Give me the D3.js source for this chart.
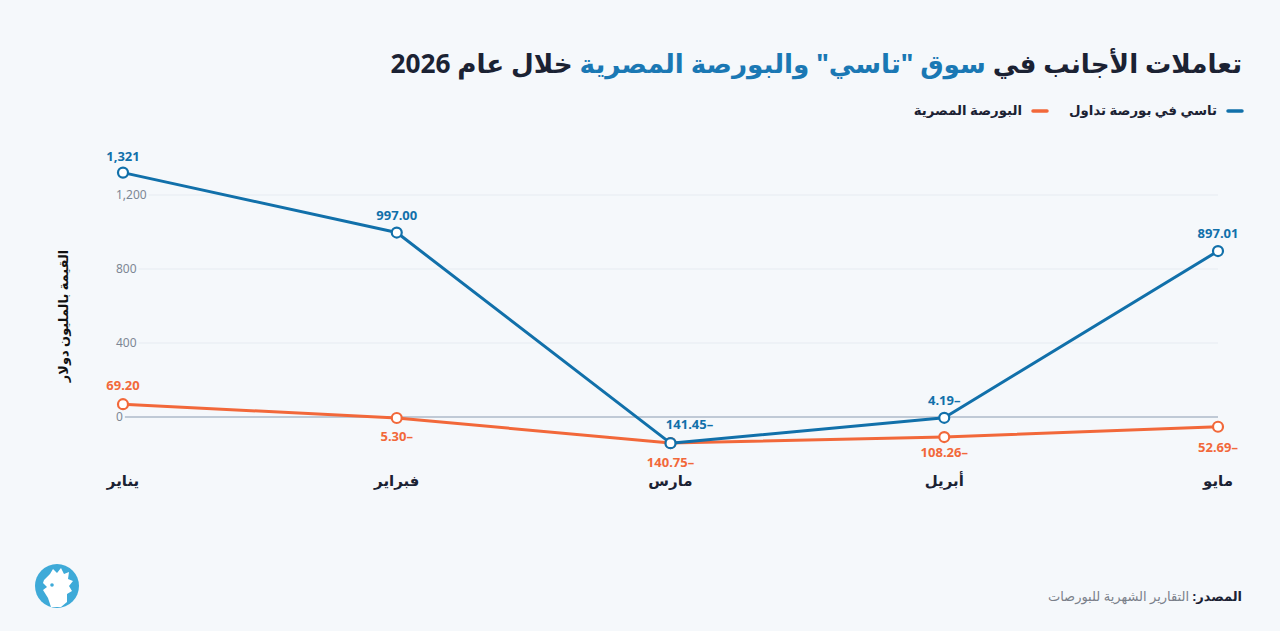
<!DOCTYPE html>
<html lang="ar">
<head>
<meta charset="utf-8">
<script src="https://cdn.jsdelivr.net/npm/d3@7"></script>
<style>
  html, body { margin: 0; padding: 0; background: #f5f8fb; }
  svg { display: block; font-family: "Noto Sans", "DejaVu Sans", sans-serif; }
</style>
</head>
<body>
<svg id="chart" width="1280" height="631"></svg>
<script>
// ---- data ----
const months = ["يناير", "فبراير", "مارس", "أبريل", "مايو"];
const tasiValues = [1321, 997.00, -141.45, -4.19, 897.01];
const egxValues = [69.20, -5.30, -140.75, -108.26, -52.69];
const yTicks = [0, 400, 800, 1200];
const seriesNames = ["تاسي في بورصة تداول", "البورصة المصرية"];

// ---- layout ----
const W = 1280, H = 631;
const blue = "#1170aa", orange = "#f2683a", dark = "#1b2233";
const svg = d3.select("#chart");
svg.append("rect").attr("width", W).attr("height", H).attr("fill", "#f5f8fb");

const x = d3.scalePoint().domain(months).range([123, 1218]);
const y = d3.scaleLinear().domain([0, 1200]).range([417, 195]);

// title
const title = svg.append("text").attr("x", 1242).attr("y", 73)
  .attr("text-anchor", "start").attr("direction", "rtl")
  .attr("font-size", 30).attr("font-weight", 700).attr("fill", dark);
title.append("tspan").text("تعاملات الأجانب في ");
title.append("tspan").attr("fill", "#1a78b4").text("سوق \"تاسي\" والبورصة المصرية");
title.append("tspan").text(" خلال عام 2026");
{
  const w = title.node().getComputedTextLength();
  if (w > 852) title.attr("font-size", 30 * 852 / w);
}

// legend
const legend = [
  { name: seriesNames[0], color: blue, xr: 1242 },
  { name: seriesNames[1], color: orange, xr: 1047 }
];
legend.forEach(l => {
  svg.append("line").attr("x1", l.xr - 14).attr("x2", l.xr).attr("y1", 111).attr("y2", 111)
    .attr("stroke", l.color).attr("stroke-width", 3.5).attr("stroke-linecap", "round");
  svg.append("text").attr("x", l.xr - 25).attr("y", 115).attr("direction", "rtl")
    .attr("text-anchor", "start").attr("font-size", 13.3).attr("font-weight", 700)
    .attr("fill", dark).text(l.name);
});

// y-axis title
svg.append("text").attr("transform", "translate(68,316) rotate(-90)")
  .attr("text-anchor", "middle").attr("direction", "rtl")
  .attr("font-size", 13).attr("font-weight", 700).attr("fill", "#111")
  .text("القيمة بالمليون دولار");

// gridlines & tick labels
const fmtTick = d3.format(",");
yTicks.forEach(t => {
  const txt = svg.append("text").attr("x", 116).attr("y", y(t) + 4)
    .attr("font-size", 12).attr("fill", "#7d8794").text(fmtTick(t));
  const w = txt.node().getComputedTextLength();
  svg.append("line").attr("x1", 116 + w + 2).attr("x2", 1218)
    .attr("y1", y(t)).attr("y2", y(t))
    .attr("stroke", t === 0 ? "#8a9bb0" : "#e6ebf1").attr("stroke-width", 1);
});

// x labels
months.forEach(m => {
  svg.append("text").attr("x", x(m)).attr("y", 486).attr("text-anchor", "middle")
    .attr("direction", "rtl").attr("font-size", 15).attr("font-weight", 700)
    .attr("fill", dark).text(m);
});

// lines
const line = d3.line().x((d, i) => x(months[i])).y(d => y(d));
const fmtLabel = v => {
  const a = Math.abs(v);
  const s = a >= 1000 ? d3.format(",.0f")(a) : d3.format(".2f")(a);
  return v < 0 ? s + "–" : s;
};

function drawSeries(vals, color, placement) {
  svg.append("path").datum(vals).attr("d", line).attr("fill", "none")
    .attr("stroke", color).attr("stroke-width", 3).attr("stroke-linejoin", "round");
  svg.selectAll(null).data(vals).enter().append("circle")
    .attr("cx", (d, i) => x(months[i])).attr("cy", d => y(d)).attr("r", 5)
    .attr("fill", "#fff").attr("stroke", color).attr("stroke-width", 2.2);
  svg.selectAll(null).data(vals).enter().append("text")
    .attr("x", (d, i) => x(months[i]) + placement[i][0])
    .attr("y", (d, i) => y(d) + placement[i][1])
    .attr("text-anchor", "middle").attr("font-size", 13).attr("font-weight", 700)
    .attr("fill", color).text(d => fmtLabel(d));
}
// placement offsets [dx, dy] for value labels
drawSeries(egxValues, orange, [[0, -14], [0, 23], [0, 24], [0, 20], [0, 25]]);
drawSeries(tasiValues, blue, [[0, -12], [0, -13], [19, -14], [0, -13], [0, -13]]);

// source
const src = svg.append("text").attr("x", 1242).attr("y", 601).attr("direction", "rtl")
  .attr("text-anchor", "start").attr("font-size", 13);
src.append("tspan").attr("font-weight", 700).attr("fill", dark).text("المصدر: ");
src.append("tspan").attr("fill", "#7a808a").text("التقارير الشهرية للبورصات");

// logo
const logo = svg.append("g").attr("transform", "translate(57,586)");
logo.append("circle").attr("r", 22).attr("fill", "#3eaad8");
logo.append("path")
  .attr("d", "M-13,-6 L-7,-12 L-4,-17 L0,-13 L4,-18 L7,-12 L12,-14 L11,-7 L16,-5 L12,0 L15,5 L10,8 L10,16 L4,21 L-6,21 L-9,12 L-14,4 L-10,1 L-14,-3 Z")
  .attr("fill", "#fff");
logo.append("circle").attr("cx", -5).attr("cy", -1).attr("r", 1.8).attr("fill", "#3eaad8");
</script>
</body>
</html>
